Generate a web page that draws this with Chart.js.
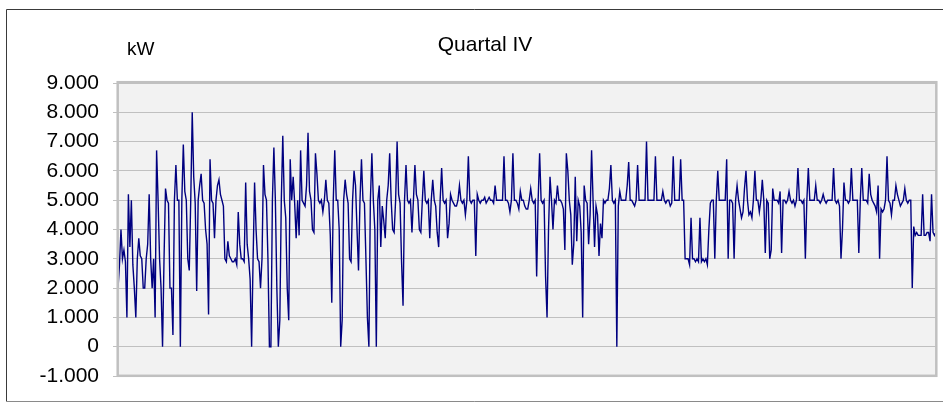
<!DOCTYPE html>
<html>
<head>
<meta charset="utf-8">
<title>Quartal IV</title>
<script src="https://cdn.jsdelivr.net/npm/chart.js@4.4.1/dist/chart.umd.min.js"></script>
<style>
  html, body { margin: 0; padding: 0; background: #fff; }
  #wrap { width: 943px; height: 403px; }
</style>
</head>
<body>
<div id="wrap"><canvas id="myChart" width="943" height="403"></canvas></div>
<script>
// kW readings, 6 per day (every 4 hours)
const october = [
    2000, 2800, 4000, 3000, 3300, 2900,   1000, 5200, 3400, 5000, 2800, 2000,
    1000, 3000, 3700, 3100, 3000, 2000,   2000, 3000, 3500, 5200, 3000, 2000,
    3000, 1000, 6700, 5000, 3000, 2000,      0, 3000, 5400, 5000, 4900, 2000,
    2000,  400, 5000, 6200, 5000, 5000,      0, 5000, 6900, 5300, 5000, 3000,
    2600, 5000, 8000, 5800, 4900, 1900,   5000, 5500, 5900, 5000, 4900, 4000,
    3500, 1100, 6400, 5000, 4900, 3700,   5000, 5500, 5700, 5200, 5000, 4800,
    3000, 2900, 3600, 3100, 3000, 2900,   2900, 3000, 2800, 4600, 3500, 3000,
    3000, 2900, 5600, 3500, 3000, 2300,      0, 3000, 5600, 4000, 3000, 2900,
    2000, 3000, 6200, 5200, 5000, 3000,      0,    0, 5000, 6800, 5000, 2000,
       0,  900, 5000, 7200, 5000, 4400,   2000,  900, 6400, 5000, 5800, 4900,
    3700, 5000, 3800, 6700, 5000, 4900,   4800, 5500, 7300, 5300, 5000, 4000,
    3900, 6600, 5900, 5000, 4900, 5000,   4600, 5000, 5700, 5000, 4900, 3800,
    1500, 5000, 6700, 5000, 5000, 4000,      0,  900, 5000, 5700, 5200, 4900,
    3000, 2900, 5000, 6000, 5500, 4000,   2600, 5000, 6400, 5000, 4900, 3000,
    1000,    0, 5000, 6600, 5000, 4000,      0, 5000, 5500, 3400, 4800, 4300,
    3700, 5000, 5500, 6600, 5000, 4000
];
const november = [
    3900, 5000, 7000, 5200, 4900, 2900,   1400, 5000, 6200, 5000, 4900, 5000,
    3900, 5000, 6200, 5200, 5000, 4000,   3900, 5000, 6000, 5000, 4900, 5000,
    3700, 5000, 5700, 5000, 4800, 3900,   3400, 5000, 6100, 5000, 4900, 5000,
    3700, 4200, 5200, 5000, 4900, 4800,   4800, 5000, 5500, 5000, 4900, 5000,
    4500, 5000, 6500, 5000, 4900, 5000,   5000, 3100, 5200, 5000, 4900, 5000,
    5000, 5100, 4900, 5000, 5100, 5000,   5000, 4900, 5500, 5000, 5000, 5000,
    5000, 5000, 6500, 5000, 5000, 4900,   4600, 5000, 6600, 5000, 5000, 4900,
    4700, 5300, 5000, 5000, 4800, 4700,   4700, 5000, 5400, 5000, 4900, 5000,
    2400, 5000, 6600, 5000, 4900, 5000,   2400, 1000, 4000, 5800, 5000, 4000,
    5000, 4900, 5500, 5000, 5000, 4900,   4700, 3300, 6600, 6000, 5000, 4500,
    2800, 3500, 5800, 3600, 5000, 4800,   3900, 1000, 5500, 5000, 4900, 3500,
    4500, 6700, 5000, 3400, 4800, 4500,   3100, 4200, 3700, 5000, 4900, 5000,
    5000, 5400, 6200, 5000, 4900, 5000,      0, 4800, 5300, 5000, 5000, 5000,
    5000, 5500, 6300, 5000, 5000, 4900,   4800, 5000, 6200, 5000, 5000, 5000,
    5000, 5000, 7000, 5000, 5000, 5000,   5000, 5000, 6500, 5000, 5000, 5000
];
const december = [
    5000, 5300, 5000, 4900, 5000, 5000,   4800, 4900, 6500, 5000, 5000, 5000,
    5000, 6400, 5000, 5000, 3000, 3000,   3000, 2800, 4400, 3000, 3000, 2900,
    3000, 2900, 4400, 2900, 3000, 2900,   3000, 2800, 4000, 4900, 5000, 5000,
    3000, 5000, 6000, 5000, 5000, 5000,   5000, 5000, 6400, 3000, 5000, 5000,
    4900, 3000, 5000, 5500, 5000, 4700,   4400, 4600, 5400, 6000, 5000, 4500,
    4600, 4400, 5000, 6000, 5000, 5000,   4600, 5000, 5700, 5000, 3200, 5000,
    4900, 3000, 3300, 5400, 5000, 5000,   5000, 4900, 5300, 3200, 5000, 5000,
    4900, 5000, 5300, 5000, 4900, 5000,   4800, 5000, 6100, 5000, 5000, 4900,
    5000, 3000, 5000, 6100, 5000, 5000,   5000, 5000, 5500, 5000, 5000, 4900,
    5000, 5200, 5000, 4900, 5000, 5000,   5000, 5000, 6100, 5000, 4900, 5000,
    4800, 3000, 4000, 5600, 5000, 5000,   4900, 5000, 6100, 5000, 5000, 5000,
    5000, 3200, 5000, 6100, 5000, 5000,   5000, 4900, 5900, 5200, 5000, 4900,
    4800, 4600, 5500, 3000, 4700, 4600,   4700, 5000, 6500, 5000, 4900, 4500,
    5000, 5000, 5500, 5200, 5000, 4800,   4900, 5000, 5400, 5000, 4900, 5000,
    5000, 2000, 4100, 3800, 3900, 3800,   3800, 3800, 5200, 3800, 3800, 3900,
    3900, 3600, 5200, 3900, 3800, 3900
];
const months = [['10', 31], ['11', 30], ['12', 31]];
const hours = ['00', '04', '08', '12', '16', '20'];
const yTicks = [-1000, 0, 1000, 2000, 3000, 4000, 5000, 6000, 7000, 8000, 9000];
const yTickLabels = ['-1.000', '0', '1.000', '2.000', '3.000', '4.000', '5.000', '6.000', '7.000', '8.000', '9.000'];

const labels = [];
months.forEach(m => {
    for (let d = 1; d <= m[1]; d++) {
        hours.forEach(h => labels.push(String(d).padStart(2, '0') + '.' + m[0] + '. ' + h + ':00'));
    }
});
const kw = october.concat(november, december);

const frame = {
    id: 'frame',
    beforeDraw(chart) {
        const ctx = chart.ctx;
        const a = chart.chartArea;
        ctx.save();
        ctx.fillStyle = '#fff';
        ctx.fillRect(0, 0, chart.width, chart.height);
        // outer border
        ctx.strokeStyle = '#3a3a3a';
        ctx.lineWidth = 1;
        ctx.beginPath();
        ctx.moveTo(943, 9.5); ctx.lineTo(6.5, 9.5); ctx.lineTo(6.5, 401.5);
        ctx.stroke();
        ctx.strokeStyle = '#8a8a8a';
        ctx.beginPath();
        ctx.moveTo(6.5, 401.5); ctx.lineTo(943, 401.5);
        ctx.stroke();
        // plot background
        ctx.fillStyle = '#f2f2f2';
        ctx.fillRect(a.left, a.top, a.right - a.left, a.bottom - a.top);
        ctx.restore();
    },
    afterDraw(chart) {
        const ctx = chart.ctx;
        const a = chart.chartArea;
        ctx.save();
        ctx.strokeStyle = '#c0c0c0';
        ctx.lineWidth = 2.5;
        ctx.strokeRect(a.left - 0.3, a.top - 0.8, a.right - a.left + 0.6, a.bottom - a.top + 0.6);
        ctx.fillStyle = '#000';
        ctx.textBaseline = 'alphabetic';
        ctx.font = '21px Arial, "Liberation Sans", sans-serif';
        ctx.textAlign = 'center';
        ctx.fillText('Quartal IV', 485, 51);
        ctx.font = '19px Arial, "Liberation Sans", sans-serif';
        ctx.textAlign = 'left';
        ctx.fillText('kW', 127, 55);
        ctx.restore();
    }
};

const ctx = document.getElementById('myChart').getContext('2d');
const myChart = new Chart(ctx, {
    type: 'line',
    data: {
        labels: labels,
        datasets: [{
            label: 'kW',
            data: kw,
            borderColor: '#000080',
            borderWidth: 1.4,
            pointRadius: 0,
            tension: 0,
            fill: false
        }]
    },
    options: {
        responsive: false,
        animation: false,
        events: [],
        layout: { padding: { top: 83, right: 7, bottom: 27, left: 0 } },
        plugins: {
            legend: { display: false },
            tooltip: { enabled: false }
        },
        scales: {
            x: { display: false },
            y: {
                min: -1000,
                max: 9000,
                afterFit: s => { s.width = 118; },
                afterBuildTicks: s => { s.ticks = yTicks.map(v => ({ value: v })); },
                grid: { color: '#c0c0c0', lineWidth: 1, drawTicks: true, tickLength: 5, tickColor: '#c0c0c0' },
                border: { display: false },
                ticks: {
                    padding: 14,
                    color: '#000',
                    font: { family: 'Arial, "Liberation Sans", sans-serif', size: 21 },
                    callback: v => yTickLabels[yTicks.indexOf(v)]
                }
            }
        }
    },
    plugins: [frame]
});
</script>
</body>
</html>
